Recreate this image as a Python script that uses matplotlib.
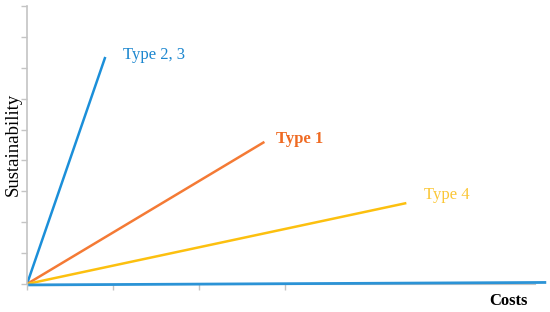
import matplotlib.pyplot as plt

# line end points (cost units, sustainability units), all start at origin
types = ["Type 2, 3", "Type 1", "Type 4"]
cost_end = [0.91, 2.76, 4.41]
sust_end = [7.35, 4.6, 2.62]
line_colors = ["#1b8fd9", "#f47a35", "#fcc00f"]
label_colors = ["#1b86cf", "#ef6a22", "#fbc736"]
label_bold = [False, True, False]
label_dx = [0.21, 0.14, 0.2]
label_dy = [0.05, 0.1, 0.25]

# the blue cost line running along the x axis
base_x = [0.03, 6.02]
base_y = [-0.03, 0.05]

y_ticks = list(range(10))
x_ticks = [0, 1, 2, 3]

fig = plt.figure(figsize=(5.5, 3.12), dpi=100)
ax = fig.add_axes([27 / 550, 1 - 284 / 312, 523 / 550, 278 / 312])
ax.set_xlim(0, 6.08)
ax.set_ylim(0, 9)

for name, cx, sy, lc, tc, b, dx, dy in zip(types, cost_end, sust_end, line_colors,
                                           label_colors, label_bold, label_dx, label_dy):
    ax.plot([0, cx], [0, sy], color=lc, lw=1.8, solid_capstyle="butt")
    ax.text(cx + dx, sy + dy, name, color=tc, fontsize=12,
            family="Liberation Serif", fontweight="bold" if b else "normal",
            ha="left", va="center")

ax.plot(base_x, base_y, color="#2b93d6", lw=2, clip_on=False, zorder=5)

for s in ["top", "right"]:
    ax.spines[s].set_visible(False)
ax.spines["left"].set_color("#c4c4c4")
ax.spines["bottom"].set_color("#c4c4c4")
ax.spines["left"].set_linewidth(1.2)
ax.spines["bottom"].set_bounds(0, 5.9)
ax.set_yticks(y_ticks)
ax.set_xticks(x_ticks)
ax.set_yticklabels([])
ax.set_xticklabels([])
ax.tick_params(axis="both", length=4, width=1, color="#c4c4c4")

fig.text(13 / 550, 1 - 144 / 312, "Sustainability", rotation=90, ha="center",
         va="center", fontsize=13.5, family="Liberation Serif")
fig.text(508 / 550, 1 - 301 / 312, "Costs", ha="center", va="center",
         fontsize=12, fontweight="bold", family="Liberation Serif")

fig.savefig("out.png", dpi=100)
